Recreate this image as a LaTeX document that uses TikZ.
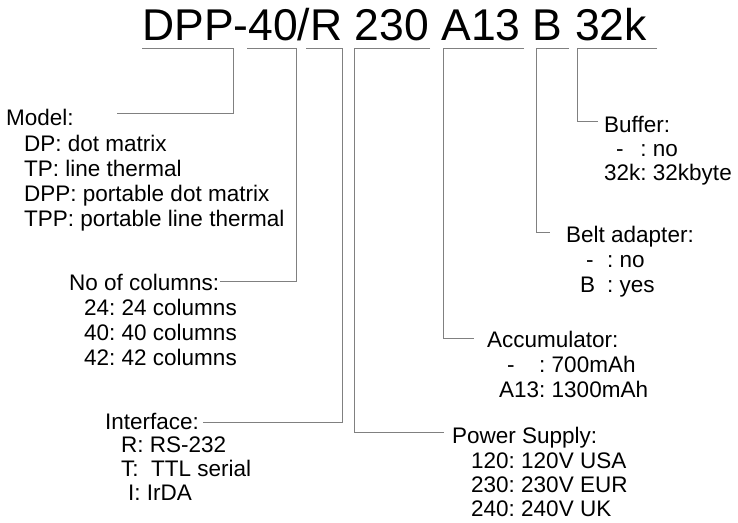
\documentclass[tikz,border=0pt]{standalone}
\usepackage{fontspec}
\setmainfont{Liberation Sans}
\begin{document}
\frenchspacing
\begin{tikzpicture}[x=1pt,y=-1pt,
  lbl/.style={anchor=base west,inner sep=0pt,font=\fontsize{22.5}{25}\selectfont},
  conn/.style={draw=black!50,line width=0.8pt}]
\useasboundingbox (0,0) rectangle (738,522);
\node[anchor=base west,inner sep=0pt,font=\fontsize{44.5}{50}\selectfont] (title) at (142,40) {DPP-40/R 230 A13 B 32k};
% Model
\node[lbl] (model) at (6,125) {Model:};
\node[lbl] (m1) at (24,151) {DP: dot matrix};
\node[lbl] (m2) at (24,176) {TP: line thermal};
\node[lbl] (m3) at (24,201) {DPP: portable dot matrix};
\node[lbl] (m4) at (24,226) {TPP: portable line thermal};
% Columns
\node[lbl] (cols) at (69,290) {No of columns:};
\node[lbl] (c1) at (84,315) {24: 24 columns};
\node[lbl] (c2) at (84,340) {40: 40 columns};
\node[lbl] (c3) at (84,365) {42: 42 columns};
% Interface
\node[lbl] (intf) at (105,429) {Interface:};
\node[lbl] (i1) at (121,452) {R: RS-232};
\node[lbl] (i2) at (121,476) {T:\ \ TTL serial};
\node[lbl] (i3) at (128,500) {I: IrDA};
% Power supply
\node[lbl] (pow) at (452,443) {Power Supply:};
\node[lbl] (p1) at (471,468) {120: 120V USA};
\node[lbl] (p2) at (471,492) {230: 230V EUR};
\node[lbl] (p3) at (471,516) {240: 240V UK};
% Accumulator
\node[lbl] (acc) at (487,347) {Accumulator:};
\node[lbl] (a1) at (499,372) {\makebox[0pt][l]{\hspace{8pt}-}\hphantom{A13}: 700mAh};
\node[lbl] (a2) at (499,397) {A13: 1300mAh};
% Belt adapter
\node[lbl] (belt) at (566,242) {Belt adapter:};
\node[lbl] (b1) at (580,267) {\makebox[27pt][l]{\hspace{6pt}-}: no};
\node[lbl] (b2) at (580,292) {\makebox[27pt][l]{B}: yes};
% Buffer
\node[lbl] (buf) at (604,132) {Buffer:};
\node[lbl] (u1) at (604,156) {\makebox[0pt][l]{\hspace{12pt}-}\hphantom{32k}: no};
\node[lbl] (u2) at (604,180) {32k: 32kbyte};
% connector points
\coordinate (mA) at (142,48); \coordinate (mB) at (233,48); \coordinate (mE) at (117,113);
\coordinate (cA) at (247,48); \coordinate (cB) at (296,48); \coordinate (cE) at (220,281);
\coordinate (iA) at (306,48); \coordinate (iB) at (342,48); \coordinate (iE) at (203,422);
\coordinate (pA) at (430,48); \coordinate (pB) at (354,48); \coordinate (pE) at (444,432);
\coordinate (aA) at (524,48); \coordinate (aB) at (443,48); \coordinate (aE) at (474,338);
\coordinate (bA) at (569,48); \coordinate (bB) at (536,48); \coordinate (bE) at (550,232);
\coordinate (uA) at (657,48); \coordinate (uB) at (577,48); \coordinate (uE) at (598,121);
\draw[conn] (mA) -- (mB) |- (mE);
\draw[conn] (cA) -- (cB) |- (cE);
\draw[conn] (iA) -- (iB) |- (iE);
\draw[conn] (pA) -- (pB) |- (pE);
\draw[conn] (aA) -- (aB) |- (aE);
\draw[conn] (bA) -- (bB) |- (bE);
\draw[conn] (uA) -- (uB) |- (uE);
\end{tikzpicture}
\end{document}
